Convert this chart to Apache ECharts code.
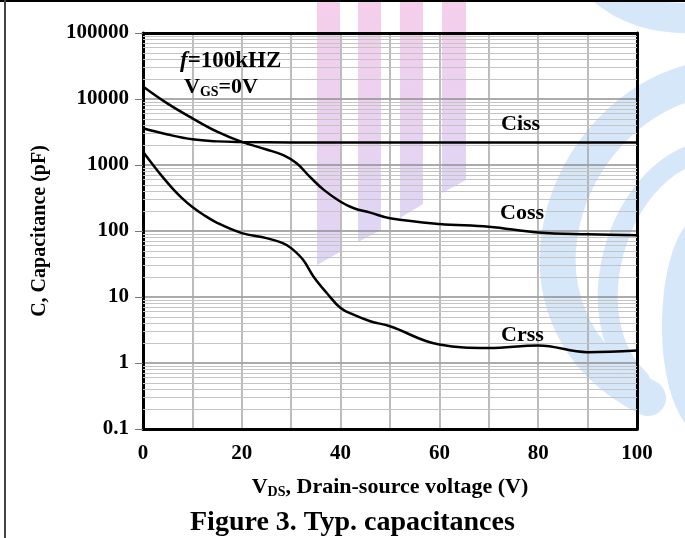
<!DOCTYPE html>
<html>
<head>
<meta charset="utf-8">
<script src="https://cdn.jsdelivr.net/npm/echarts@6/dist/echarts.min.js"></script>
<style>
html, body { margin: 0; padding: 0; background: #fff; }
#chart { width: 685px; height: 538px; }
</style>
</head>
<body>
<div id="chart"></div>
<script>
// values (V in volts, C in pF)
var cissV = [0, 5, 10, 15, 20, 30, 50, 70, 100];
var cissC = [3600, 2900, 2450, 2280, 2230, 2200, 2200, 2200, 2200];

var cossV = [0, 5, 10, 15, 20, 25, 28.4, 31.1, 33.8, 36.6, 40, 42.7, 46, 50, 60, 70, 80, 90, 100];
var cossC = [15500, 8500, 5100, 3200, 2240, 1720, 1410, 1060, 660, 420, 278, 221, 190, 156, 128, 116, 95, 89, 86];

var crssV = [0, 2, 4, 6, 8, 10, 12, 15, 20, 25, 28.3, 30, 32.4, 34.5, 37.2, 40, 42.6, 46, 50, 60, 70, 80, 90, 100];
var crssC = [1590, 1010, 655, 440, 310, 231, 181, 133, 93, 78, 65.5, 55, 36.6, 20.5, 11.5, 6.8, 5.4, 4.3, 3.6, 1.9, 1.69, 1.84, 1.46, 1.55];

var xTicks = [0, 20, 40, 60, 80, 100];
var yDecades = [0.1, 1, 10, 100, 1000, 10000, 100000];

var font = 'Liberation Serif';

function pairs(xs, ys) {
    var out = [];
    for (var i = 0; i < xs.length; i++) {
        out.push([xs[i], ys[i]]);
    }
    return out;
}

// minor grid lines at 2..9 of each decade
var minorLines = [];
for (var d = 0; d < yDecades.length - 1; d++) {
    for (var m = 2; m <= 9; m++) {
        minorLines.push({ yAxis: +(yDecades[d] * m).toPrecision(6) });
    }
}

function curve(name, xs, ys) {
    return {
        name: name,
        type: 'line',
        data: pairs(xs, ys),
        smooth: 0.4,
        showSymbol: false,
        lineStyle: { color: '#000', width: 2.5 },
        z: 5
    };
}

// watermark pieces behind the plot
function bar(x0, x1, yl, yr) {
    return {
        type: 'polygon',
        z: -5,
        silent: true,
        shape: { points: [[x0, 2], [x1, 2], [x1, yr], [x0, yl]] },
        style: {
            fill: new echarts.graphic.LinearGradient(0, 0, 0, 1, [
                { offset: 0, color: 'rgba(242,190,228,0.75)' },
                { offset: 1, color: 'rgba(212,200,242,0.75)' }
            ])
        }
    };
}
function band(x1, y1, c1x, c1y, c2x, c2y, x2, y2, w) {
    return {
        type: 'bezierCurve',
        z: -5,
        silent: true,
        shape: { x1: x1, y1: y1, cpx1: c1x, cpy1: c1y, cpx2: c2x, cpy2: c2y, x2: x2, y2: y2 },
        style: { stroke: '#d5e7f9', lineWidth: w, fill: null, lineCap: 'round' }
    };
}

var chart = echarts.init(document.getElementById('chart'));
var option = {
    animation: false,
    backgroundColor: '#fff',
    grid: { left: 143, right: 48, top: 33, bottom: 109 },
    xAxis: [{
        type: 'value',
        min: 0, max: 100, interval: 10,
        position: 'bottom',
        axisLine: { show: true, lineStyle: { color: '#000', width: 3 } },
        axisTick: { show: false },
        splitLine: { show: true, lineStyle: { color: '#a6a6a6', width: 1.5 } },
        axisLabel: {
            margin: 14,
            fontFamily: font, fontWeight: 'bold', fontSize: 21, color: '#000',
            formatter: function (v) { return xTicks.indexOf(v) >= 0 ? String(v) : ''; }
        },
        name: '{a|V}{s|DS}{a|, Drain-source voltage (V)}',
        nameLocation: 'middle',
        nameGap: 46,
        nameTextStyle: {
            rich: {
                a: { fontFamily: font, fontWeight: 'bold', fontSize: 22, color: '#000' },
                s: { fontFamily: font, fontWeight: 'bold', fontSize: 14, color: '#000', verticalAlign: 'bottom', padding: [10, 0, 0, 0] }
            }
        }
    }, {
        type: 'value',
        min: 0, max: 100,
        position: 'top',
        axisLine: { show: true, lineStyle: { color: '#000', width: 3 } },
        axisTick: { show: false },
        axisLabel: { show: false },
        splitLine: { show: false }
    }],
    yAxis: [{
        type: 'log',
        logBase: 10,
        min: 0.1, max: 100000,
        position: 'left',
        axisLine: { show: true, onZero: false, lineStyle: { color: '#000', width: 3 } },
        axisTick: { show: true, length: 8, lineStyle: { color: '#777', width: 1 } },
        splitLine: { show: true, lineStyle: { color: '#8f8f8f', width: 1.5 } },
        axisLabel: {
            margin: 14,
            fontFamily: font, fontWeight: 'bold', fontSize: 21, color: '#000',
            formatter: function (v) { return String(+v.toPrecision(6)); }
        },
        name: 'C, Capacitance (pF)',
        nameLocation: 'middle',
        nameRotate: 90,
        nameGap: 93,
        nameTextStyle: { fontFamily: font, fontWeight: 'bold', fontSize: 20, color: '#000' }
    }, {
        type: 'log',
        logBase: 10,
        min: 0.1, max: 100000,
        position: 'right',
        axisLine: { show: true, onZero: false, lineStyle: { color: '#000', width: 3 } },
        axisTick: { show: false },
        axisLabel: { show: false },
        splitLine: { show: false }
    }],
    series: [
        {
            name: 'minor',
            type: 'line',
            data: [],
            silent: true,
            z: 1,
            markLine: {
                silent: true,
                symbol: ['none', 'none'],
                label: { show: false },
                lineStyle: { color: '#c4c4c4', width: 1, type: 'solid' },
                emphasis: { disabled: true },
                data: minorLines
            }
        },
        curve('Ciss', cissV, cissC),
        curve('Coss', cossV, cossC),
        curve('Crss', crssV, crssC)
    ],
    graphic: [
        bar(317, 340, 265, 252),
        bar(358, 381, 242, 230),
        bar(400, 423, 218, 204),
        bar(442, 466, 193, 180),
        band(598, -14, 625, 10, 655, 20, 700, 18, 30),
        band(700, 80, 560, 110, 490, 320, 648, 398, 36),
        band(700, 152, 615, 175, 575, 320, 640, 380, 20),
        band(705, 225, 668, 245, 662, 395, 705, 425, 26),
        { type: 'line', silent: true, shape: { x1: 0, y1: 1, x2: 685, y2: 1 }, style: { stroke: '#000', lineWidth: 2 } },
        { type: 'line', silent: true, shape: { x1: 5, y1: 0, x2: 5, y2: 538 }, style: { stroke: '#444', lineWidth: 2 } },
        {
            type: 'text', left: 180, top: 50, z: 10,
            style: {
                text: '{i|f}{b|=100kHZ}',
                rich: {
                    i: { fontFamily: font, fontStyle: 'italic', fontWeight: 'bold', fontSize: 23, fill: '#000' },
                    b: { fontFamily: font, fontWeight: 'bold', fontSize: 23, fill: '#000' }
                }
            }
        },
        {
            type: 'text', left: 184, top: 76, z: 10,
            style: {
                text: '{b|V}{s|GS}{b|=0V}',
                rich: {
                    b: { fontFamily: font, fontWeight: 'bold', fontSize: 22, fill: '#000' },
                    s: { fontFamily: font, fontWeight: 'bold', fontSize: 14, fill: '#000', verticalAlign: 'bottom', padding: [10, 0, 0, 0] }
                }
            }
        },
        { type: 'text', left: 501, top: 113, z: 10, style: { text: 'Ciss', font: 'bold 22px "Liberation Serif"', fill: '#000' } },
        { type: 'text', left: 500, top: 202, z: 10, style: { text: 'Coss', font: 'bold 22px "Liberation Serif"', fill: '#000' } },
        { type: 'text', left: 501, top: 324, z: 10, style: { text: 'Crss', font: 'bold 22px "Liberation Serif"', fill: '#000' } },
        { type: 'text', left: 190, top: 509, z: 10, style: { text: 'Figure 3. Typ. capacitances', font: 'bold 28px "Liberation Serif"', fill: '#000' } }
    ]
};
chart.setOption(option);
</script>
</body>
</html>
